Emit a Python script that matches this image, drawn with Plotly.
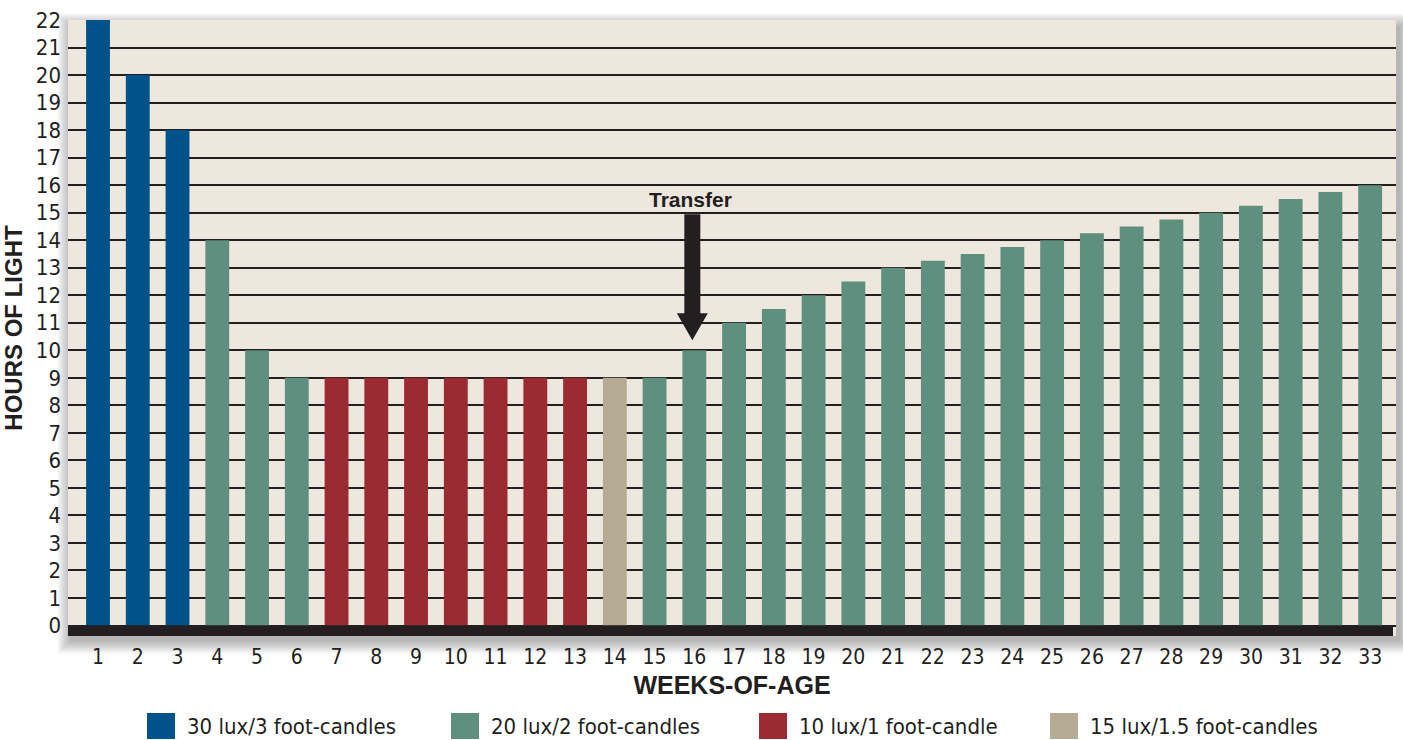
import plotly.graph_objects as go

# Lighting programme: hours of light per week of age
weeks = list(range(1, 34))
hours = [22, 20, 18, 14, 10, 9, 9, 9, 9, 9, 9, 9, 9, 9, 9, 10, 11, 11.5, 12, 12.5,
         13, 13.25, 13.5, 13.75, 14, 14.25, 14.5, 14.75, 15, 15.25, 15.5, 15.75, 16]
intensity = (["30 lux/3 foot-candles"] * 3 + ["20 lux/2 foot-candles"] * 3 +
             ["10 lux/1 foot-candle"] * 7 + ["15 lux/1.5 foot-candles"] +
             ["20 lux/2 foot-candles"] * 19)

legend_labels = ["30 lux/3 foot-candles", "20 lux/2 foot-candles",
                 "10 lux/1 foot-candle", "15 lux/1.5 foot-candles"]
legend_colors = ["#00528A", "#5F8F7F", "#9C2A33", "#B5AA93"]
transfer_week = 16

INK = "#231F20"
BG = "#EEE7DE"
NARROW = "Liberation Sans Narrow, DejaVu Sans Condensed, Arial Narrow, sans-serif"
BOLD = "Liberation Sans, Arial, sans-serif"

W, H = 1403, 740
ML, MR, MT, MB = 68, 7, 20, 104
PW, PH = W - ML - MR, H - MT - MB


def px_x(px):
    return (px - ML) / PW


def px_y(py):
    return (H - MB - py) / PH


fig = go.Figure()
for label, color in zip(legend_labels, legend_colors):
    xs = [w for w, g in zip(weeks, intensity) if g == label]
    ys = [h for h, g in zip(hours, intensity) if g == label]
    fig.add_trace(go.Bar(x=xs, y=ys, name=label, marker=dict(color=color, line_width=0),
                         width=0.6, showlegend=False, hoverinfo="x+y"))

shapes = []
# soft drop shadow behind the plotting panel
for i in range(10):
    e = i * 1.4
    shapes.append(dict(type="rect", xref="paper", yref="paper", layer="below",
                       x0=px_x(ML + 2 - e), x1=px_x(ML + PW + 4 + e),
                       y0=px_y(MT + 6 - e), y1=px_y(MT + PH + 5 + e),
                       fillcolor="rgba(0,0,0,0.03)", line_width=0))
# panel background
shapes.append(dict(type="rect", xref="paper", yref="paper", layer="below",
                   x0=0, x1=1, y0=0, y1=1, fillcolor=BG, line_width=0))
# heavy base band under the zero line
shapes.append(dict(type="rect", xref="paper", yref="y", layer="above",
                   x0=0, x1=px_x(1393), y0=-0.38, y1=0, fillcolor=INK, line_width=0))
# transfer arrow, anchored on the bar for the transfer week
t_hours = hours[weeks.index(transfer_week)]
shapes.append(dict(type="path", xref="x", yref="y", layer="above",
                   xsizemode="pixel", ysizemode="pixel",
                   xanchor=transfer_week, yanchor=t_hours,
                   path="M -10,136 L 6,136 L 6,37 L 13.5,37 L -2,10 L -17.5,37 L -10,37 Z",
                   fillcolor=INK, line_width=0))

# manual legend
sq_x = [147, 451, 759, 1050]
annotations = [dict(x=transfer_week, y=t_hours, xref="x", yref="y", xshift=-4, yshift=151,
                    text="<b>Transfer</b>", showarrow=False,
                    font=dict(family=BOLD, size=21, color=INK))]
for x0, label, color in zip(sq_x, legend_labels, legend_colors):
    shapes.append(dict(type="rect", xref="paper", yref="paper",
                       x0=px_x(x0), x1=px_x(x0 + 28), y0=px_y(713), y1=px_y(739),
                       fillcolor=color, line_width=0))
    annotations.append(dict(x=px_x(x0 + 38), y=px_y(726), xref="paper", yref="paper",
                            xanchor="left", yanchor="middle", text=label, showarrow=False,
                            font=dict(family=NARROW, size=22, color=INK)))

fig.update_layout(
    width=W, height=H,
    margin=dict(l=ML, r=MR, t=MT, b=MB),
    paper_bgcolor="white",
    plot_bgcolor="rgba(0,0,0,0)",
    bargap=0.4,
    shapes=shapes,
    annotations=annotations,
    xaxis=dict(range=[0.245, 33.65], tickmode="array", tickvals=weeks,
               ticktext=[str(w) for w in weeks], showgrid=False, zeroline=False,
               showline=False, ticks="", ticklabelstandoff=6,
               tickfont=dict(family=NARROW, size=21, color=INK),
               title=dict(text="<b>WEEKS-OF-AGE</b>", standoff=8,
                          font=dict(family=BOLD, size=25, color=INK))),
    yaxis=dict(range=[-0.38, 22], tickmode="linear", tick0=0, dtick=1,
               showgrid=True, gridcolor=INK, gridwidth=2, zeroline=False,
               showline=False, ticks="", ticklabelstandoff=6,
               tickfont=dict(family=NARROW, size=22, color=INK),
               title=dict(text="<b>HOURS OF LIGHT</b>", standoff=8,
                          font=dict(family=BOLD, size=24, color=INK))),
)

fig.write_html("out.html")
